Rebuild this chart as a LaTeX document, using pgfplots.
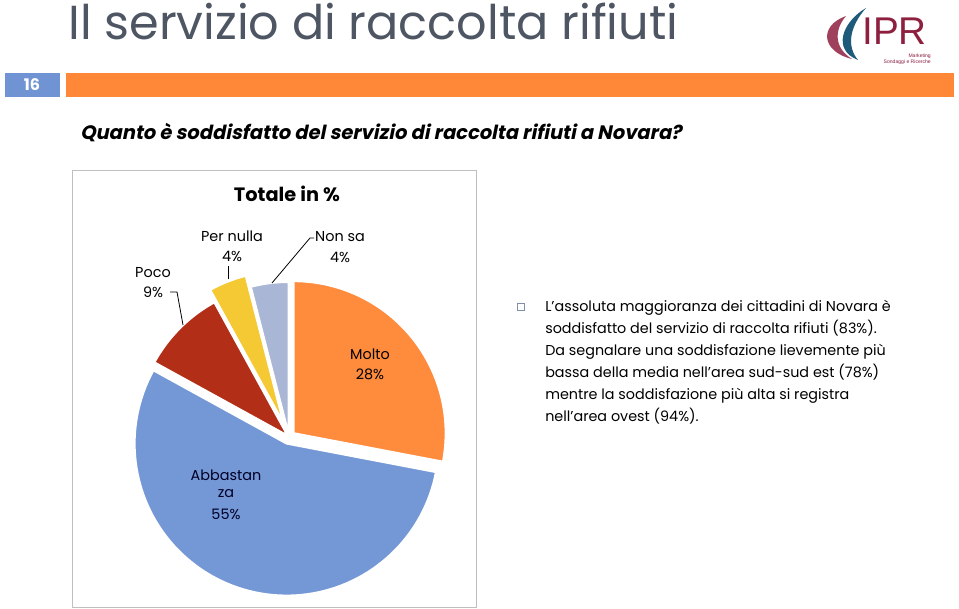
\documentclass[border=0pt]{standalone}
\usepackage{pgfplots}
\pgfplotsset{compat=1.18}
\usepackage{fontspec}
\setmainfont{Poppins}[AutoFakeSlant=0.2]
\newfontfamily\qfont{Poppins}[FakeSlant=0.2]
\newfontfamily\logofont{Liberation Sans}
\definecolor{titlegray}{HTML}{4E5563}
\definecolor{boxblue}{HTML}{7093D4}
\definecolor{bandorange}{HTML}{FF8838}
\definecolor{pOrange}{HTML}{FF8B3D}
\definecolor{pBlue}{HTML}{7498D6}
\definecolor{pRed}{HTML}{B22E17}
\definecolor{pYellow}{HTML}{F5C934}
\definecolor{pGray}{HTML}{A9B6D6}
\definecolor{framegray}{HTML}{BFBFBF}
\definecolor{logored}{HTML}{8E1F3F}
\definecolor{logoblue}{HTML}{1F5A7A}
\definecolor{bulletgray}{HTML}{8090AA}
\def\cum{90}
\newcommand{\pieslice}[3]{% #1 percent, #2 colour, #3 explode (px)
  \pgfmathsetmacro\sa{\cum}%
  \pgfmathsetmacro\ea{\cum-3.6*#1}%
  \pgfmathsetmacro\ma{(\sa+\ea)/2}%
  \pgfmathsetmacro\ox{289+#3*cos(\ma)}%
  \pgfmathsetmacro\oy{437-#3*sin(\ma)}%
  \edef\tmp{\noexpand\addplot[fill=#2, draw=white, line width=1.5pt, line join=round, domain=\ea:\sa, samples=90] ({\ox+152*cos(x)},{\oy-152*sin(x)}) -- (axis cs:\ox,\oy) -- cycle;}%
  \tmp
  \global\let\cum\ea}
\begin{document}
\begin{tikzpicture}
\begin{axis}[scale only axis, width=719.25pt, height=456.75pt,
  xmin=0, xmax=959, ymin=0, ymax=609, y dir=reverse,
  hide axis, clip=false]
\fill[white] (axis cs:0,0) rectangle (axis cs:959,609);
% title
\node[anchor=base west, inner sep=0, text=titlegray, font=\fontsize{35.8}{40}\selectfont] at (axis cs:68,40) {Il servizio di raccolta rifiuti};
% band
\fill[boxblue] (axis cs:5,73) rectangle (axis cs:60,97);
\node[text=white, font=\bfseries\fontsize{12}{14}\selectfont] at (axis cs:32,85) {16};
\fill[bandorange] (axis cs:66,73) rectangle (axis cs:954,97);
% logo
\fill[logored!85] (axis cs:846,16) .. controls (axis cs:818,26) and (axis cs:822,52) .. (axis cs:852,59) .. controls (axis cs:834,48) and (axis cs:834,30) .. (axis cs:846,16) -- cycle;
\fill[logoblue] (axis cs:866,8) .. controls (axis cs:842,22) and (axis cs:832,50) .. (axis cs:858,60) .. controls (axis cs:846,46) and (axis cs:850,26) .. (axis cs:866,8) -- cycle;
\node[anchor=base west, inner sep=0, text depth=0pt, text=logored, font=\logofont\fontsize{29}{31}\selectfont] at (axis cs:862,45) {IPR};
\node[anchor=base east, inner sep=0, text=logored, font=\logofont\fontsize{3.8}{4}\selectfont] at (axis cs:931,57.5) {Marketing};
\node[anchor=base east, inner sep=0, text=logored, font=\logofont\fontsize{3.8}{4}\selectfont] at (axis cs:931,63.5) {\textsc{Sondaggi e Ricerche}};
% question
\node[anchor=base west, inner sep=0, font=\qfont\bfseries\fontsize{14.6}{18}\selectfont] at (axis cs:80,140) {Quanto è soddisfatto del servizio di raccolta rifiuti a Novara?};
% chart frame
\draw[framegray, line width=0.75pt] (axis cs:72,171) rectangle (axis cs:476,607);
\node[font=\bfseries\fontsize{14.5}{16}\selectfont] at (axis cs:287,194) {Totale in \%};
% pie: Molto, Abbastanza, Poco, Per nulla, Non sa
\pieslice{28}{pOrange}{6}
\pieslice{55}{pBlue}{7}
\pieslice{9}{pRed}{2}
\pieslice{4}{pYellow}{15}
\pieslice{4}{pGray}{3}
% leader lines
\draw[black, line width=0.6pt] (axis cs:170,292) -- (axis cs:177,292) -- (axis cs:183,325);
\draw[black, line width=0.6pt] (axis cs:228,266) -- (axis cs:228,279);
\draw[black, line width=0.6pt] (axis cs:314,238) -- (axis cs:310,238) -- (axis cs:272,283);
% labels
\begin{scope}[every node/.style={font=\fontsize{10.8}{12}\selectfont, inner sep=0}]
\node at (axis cs:232,236) {Per nulla};
\node at (axis cs:232,256) {4\%};
\node at (axis cs:340,237) {Non sa};
\node at (axis cs:340,257) {4\%};
\node at (axis cs:153,273) {Poco};
\node at (axis cs:153,292) {9\%};
\node at (axis cs:370,354) {Molto};
\node at (axis cs:370,374) {28\%};
\node[text=black!85!blue] at (axis cs:226,475) {Abbastan};
\node[text=black!85!blue] at (axis cs:226,494) {za};
\node[text=black!85!blue] at (axis cs:226,514) {55\%};
\end{scope}
% bullet text
\draw[bulletgray, line width=0.6pt] (axis cs:517,303) rectangle (axis cs:524,310);
\begin{scope}[every node/.style={anchor=base west, inner sep=0, font=\fontsize{10.76}{13}\selectfont}]
\node at (axis cs:545,311) {L’assoluta maggioranza dei cittadini di Novara è};
\node at (axis cs:545,333) {soddisfatto del servizio di raccolta rifiuti (83\%).};
\node at (axis cs:545,355) {Da segnalare una soddisfazione lievemente più};
\node at (axis cs:545,377) {bassa della media nell’area sud-sud est (78\%)};
\node at (axis cs:545,399) {mentre la soddisfazione più alta si registra};
\node at (axis cs:545,421) {nell’area ovest (94\%).};
\end{scope}
\end{axis}
\end{tikzpicture}
\end{document}
